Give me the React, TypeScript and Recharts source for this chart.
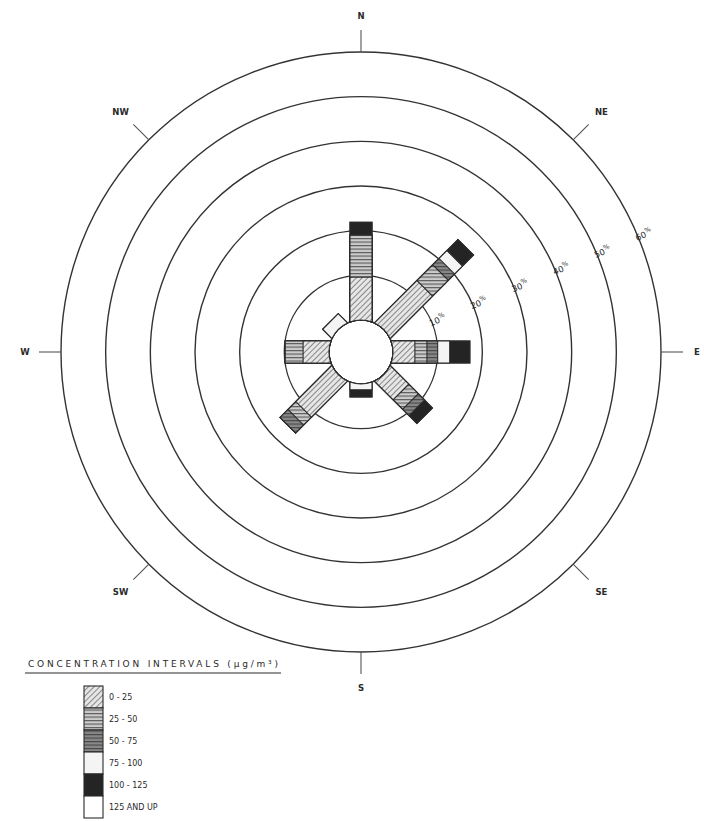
import React from "react";
import {
  RadarChart,
  Radar,
  PolarGrid,
  PolarAngleAxis,
  PolarRadiusAxis,
  Legend,
} from "recharts";

// wind directions, clockwise from north
const directions = ["N", "NE", "E", "SE", "S", "SW", "W", "NW"];

// concentration classes (ug/m3)
const classLabels = ["0 - 25", "25 - 50", "50 - 75", "75 - 100", "100 - 125", "125 AND UP"];

// frequency (%) of each class per direction
const c0to25 = [9.6, 13.0, 4.9, 5.5, 0, 11.0, 5.8, 0];
const c25to50 = [9.4, 5.0, 2.7, 3.0, 0, 2.5, 4.0, 0];
const c50to75 = [0, 2.0, 2.4, 2.0, 0, 2.5, 0, 0];
const c75to100 = [0, 2.5, 2.7, 0, 1.3, 0, 0, 2.5];
const c100to125 = [2.9, 3.5, 4.5, 2.5, 1.6, 0, 0, 0];
const c125up = [0, 0, 0, 0, 0, 0, 0, 0];

const classValues = [c0to25, c25to50, c50to75, c75to100, c100to125, c125up];

// radius axis ticks (percent rings)
const ringTicks = [0, 10, 20, 30, 40, 50, 60];

const fills = ["p0", "p1", "p2", "p3", "p4", "p5"];

// stacked (cumulative) table for the radars
const data = directions.map((dir, i) => {
  const row: any = { dir };
  let sum = 0;
  classValues.forEach((vals, k) => {
    sum += vals[i];
    row[`cum${k}`] = +sum.toFixed(2);
  });
  return row;
});

const RAD = Math.PI / 180;
const CX = 361;
const CY = 352;
const INNER_R = 32;
const OUTER_R = 300;
const HALF_W = 11;
const INK = "#2a2a2a";
const FONT = "'DejaVu Sans', sans-serif";

const Patterns = ({ prefix = "" }: { prefix?: string }) => (
  <defs>
    <pattern id={`${prefix}p0`} width={4} height={4} patternUnits="userSpaceOnUse" patternTransform="rotate(45)">
      <rect width={4} height={4} fill="#e6e6e6" />
      <line x1={0} y1={0} x2={0} y2={4} stroke="#5e5e5e" strokeWidth={1.4} />
    </pattern>
    <pattern id={`${prefix}p1`} width={4} height={3.5} patternUnits="userSpaceOnUse">
      <rect width={4} height={3.5} fill="#cccccc" />
      <line x1={0} y1={0.6} x2={4} y2={0.6} stroke="#555" strokeWidth={1.1} />
    </pattern>
    <pattern id={`${prefix}p2`} width={4} height={3.5} patternUnits="userSpaceOnUse">
      <rect width={4} height={3.5} fill="#888" />
      <line x1={0} y1={0.6} x2={4} y2={0.6} stroke="#444" strokeWidth={1.1} />
    </pattern>
    <pattern id={`${prefix}p3`} width={4} height={4} patternUnits="userSpaceOnUse">
      <rect width={4} height={4} fill="#f4f4f4" />
    </pattern>
    <pattern id={`${prefix}p4`} width={4} height={4} patternUnits="userSpaceOnUse">
      <rect width={4} height={4} fill="#242424" />
    </pattern>
    <pattern id={`${prefix}p5`} width={4} height={4} patternUnits="userSpaceOnUse">
      <rect width={4} height={4} fill="#ffffff" />
    </pattern>
  </defs>
);

// draws one rectangular arm per direction, from the calm circle out to the point
const armShape = (fillId: string) => (props: any) => {
  const pts = props.points || [];
  return (
    <g>
      {pts.map((p: any, i: number) => {
        if (p.radius == null || p.radius <= INNER_R + 0.3) return null;
        const ux = Math.cos(-p.angle * RAD);
        const uy = Math.sin(-p.angle * RAD);
        const vx = -uy;
        const vy = ux;
        const s = Math.sqrt(INNER_R * INNER_R - HALF_W * HALF_W);
        const i1x = p.cx + ux * s + vx * HALF_W;
        const i1y = p.cy + uy * s + vy * HALF_W;
        const i2x = p.cx + ux * s - vx * HALF_W;
        const i2y = p.cy + uy * s - vy * HALF_W;
        const o1x = p.x + vx * HALF_W;
        const o1y = p.y + vy * HALF_W;
        const o2x = p.x - vx * HALF_W;
        const o2y = p.y - vy * HALF_W;
        const d = `M${i1x},${i1y} L${o1x},${o1y} L${o2x},${o2y} L${i2x},${i2y} A${INNER_R},${INNER_R} 0 0 1 ${i1x},${i1y} Z`;
        return <path key={i} d={d} fill={`url(#${fillId})`} stroke="#2a2a2a" strokeWidth={1.1} />;
      })}
    </g>
  );
};

const DirTick = (props: any) => {
  const { x, y, payload } = props;
  const a = -payload.coordinate * RAD;
  const off = payload.value.length > 1 ? 18 : 14;
  return (
    <text
      x={x + Math.cos(a) * off}
      y={y + Math.sin(a) * off}
      textAnchor="middle"
      dominantBaseline="central"
      fontFamily={FONT}
      fontSize={8.5}
      fontWeight="bold"
      fill={INK}
    >
      {payload.value}
    </text>
  );
};

const PctTick = (props: any) => {
  const { x, y, payload } = props;
  if (!payload.value) return null;
  const a = -22.5 * RAD;
  const tx = x + Math.cos(a) * 6;
  const ty = y + Math.sin(a) * 6;
  return (
    <text
      x={tx}
      y={ty}
      transform={`rotate(-22.5 ${tx} ${ty})`}
      textAnchor="middle"
      dominantBaseline="central"
      fontFamily={FONT}
      fontSize={8.5}
      fill={INK}
    >
      {payload.value}
      <tspan fontSize={6.5} dy={-3}>%</tspan>
    </text>
  );
};

const LegendBox = () => {
  const boxX = 84;
  const boxTop = 36;
  const boxH = 22;
  return (
    <svg width={300} height={171}>
      <Patterns prefix="lg" />
      <text
        x={28}
        y={17}
        textLength={250}
        lengthAdjust="spacing"
        fontFamily={FONT}
        fontSize={9}
        fill={INK}
      >
        CONCENTRATION INTERVALS (µg/m³)
      </text>
      <line x1={25} y1={23} x2={281} y2={23} stroke={INK} strokeWidth={1.2} />
      {classLabels.map((label, k) => (
        <g key={label}>
          <rect
            x={boxX}
            y={boxTop + k * boxH}
            width={19}
            height={boxH}
            fill={`url(#lg${fills[k]})`}
            stroke="#2a2a2a"
            strokeWidth={1.1}
          />
          <text
            x={109}
            y={boxTop + k * boxH + boxH / 2}
            dominantBaseline="central"
            fontFamily={FONT}
            fontSize={8}
            fill={INK}
          >
            {label}
          </text>
        </g>
      ))}
    </svg>
  );
};

export default function App() {
  const order = [5, 4, 3, 2, 1, 0];
  return (
    <div style={{ position: "absolute", left: 0, top: 0, width: 704, height: 821, background: "#fff" }}>
      <RadarChart
        width={704}
        height={821}
        data={data}
        cx={CX}
        cy={CY}
        innerRadius={INNER_R}
        outerRadius={OUTER_R}
        margin={{ top: 0, right: 0, bottom: 0, left: 0 }}
      >
        <Patterns />
        <PolarGrid gridType="circle" radialLines={false} stroke="#333" strokeWidth={1.4} />
        <PolarAngleAxis
          dataKey="dir"
          axisLine={false}
          tickSize={22}
          tickLine={{ stroke: "#555", strokeWidth: 1.1 }}
          tick={<DirTick />}
        />
        <PolarRadiusAxis
          angle={22.5}
          type="number"
          domain={[0, 60]}
          ticks={ringTicks as any}
          tickCount={7}
          axisLine={false}
          tickLine={false}
          tick={<PctTick />}
        />
        {order.map((k) => (
          <Radar
            key={k}
            name={classLabels[k]}
            dataKey={`cum${k}`}
            fill={`url(#${fills[k]})`}
            stroke="#2a2a2a"
            isAnimationActive={false}
            shape={armShape(fills[k])}
          />
        ))}
        <Legend
          content={() => <LegendBox />}
          wrapperStyle={{ position: "absolute", left: 0, top: 650, width: 300, height: 171 }}
        />
      </RadarChart>
    </div>
  );
}
